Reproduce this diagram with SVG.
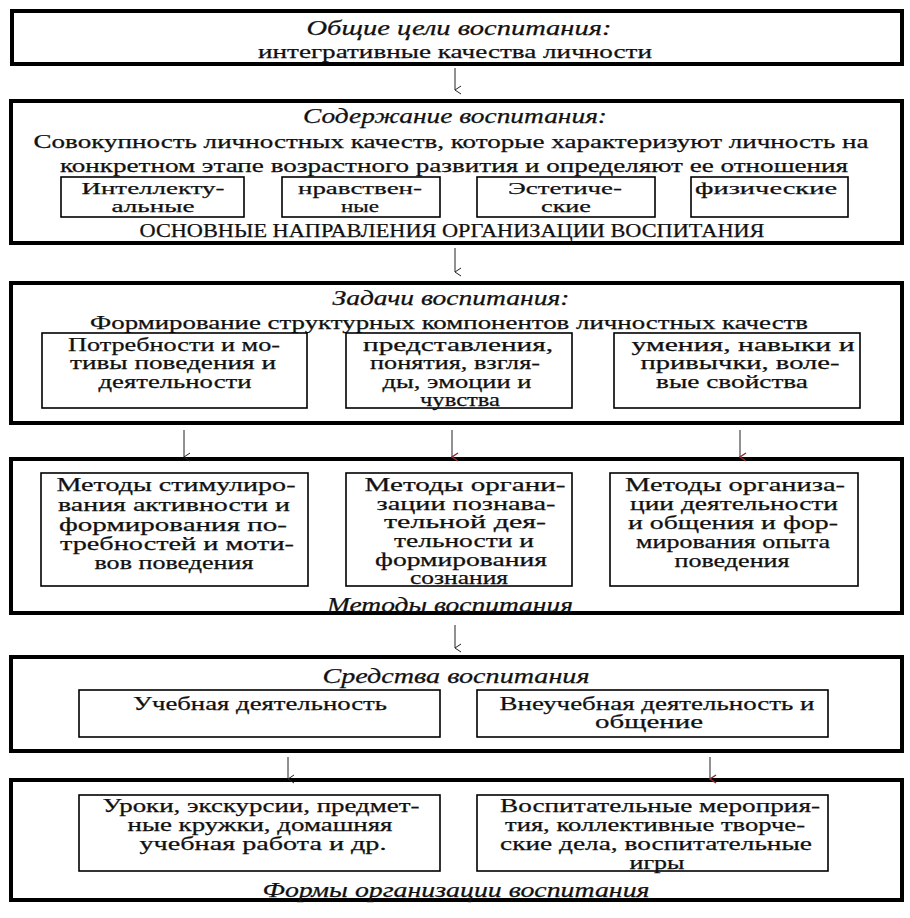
<svg xmlns="http://www.w3.org/2000/svg" width="910" height="918" viewBox="0 0 910 918" font-family="'Liberation Serif','Times New Roman','DejaVu Serif',serif">
<style>
.outer{fill:#fff;stroke:#000;stroke-width:4}
.inner{fill:#fff;stroke:#000;stroke-width:1.6}
text{font-family:'Liberation Serif','Times New Roman','DejaVu Serif',serif;font-size:19px;fill:#111;stroke:#111;stroke-width:0.25;text-anchor:middle}
.s{font-size:17.5px}
.t{font-style:italic;font-size:21px}
.conn line{stroke:#222;stroke-width:1}
</style>
<defs>
<marker id="ah" markerWidth="10" markerHeight="10" refX="5" refY="9" orient="auto" markerUnits="userSpaceOnUse" viewBox="0 0 10 10">
<path d="M1,3 L5,9 L9,3" fill="none" stroke="#222" stroke-width="1"/>
</marker>
<marker id="ahr" markerWidth="10" markerHeight="10" refX="5" refY="9" orient="auto" markerUnits="userSpaceOnUse" viewBox="0 0 10 10">
<path d="M1,3 L5,9 L9,3" fill="none" stroke="#8a2a2a" stroke-width="1.4"/>
</marker>
</defs>
<rect width="910" height="918" fill="#fff"/>

<g id="goals">
<rect class="outer" x="12" y="11" width="890" height="53"/>
<text class="t" x="459" y="35" textLength="305" lengthAdjust="spacingAndGlyphs">Общие цели воспитания:</text>
<text x="455" y="58" textLength="394" lengthAdjust="spacingAndGlyphs">интегративные качества личности</text>
</g>

<g id="content">
<rect class="outer" x="11" y="101" width="891" height="142"/>
<text class="t" x="455" y="123" textLength="304" lengthAdjust="spacingAndGlyphs">Содержание воспитания:</text>
<text x="451" y="148" textLength="835" lengthAdjust="spacingAndGlyphs">Совокупность личностных качеств, которые характеризуют личность на</text>
<text x="454" y="172" textLength="788" lengthAdjust="spacingAndGlyphs">конкретном этапе возрастного развития и определяют ее отношения</text>
<g id="c1"><rect class="inner" x="61" y="177" width="183" height="40"/><text class="s" x="153" y="194" textLength="143" lengthAdjust="spacingAndGlyphs">Интеллекту-</text><text class="s" x="153" y="212" textLength="83" lengthAdjust="spacingAndGlyphs">альные</text></g>
<g id="c2"><rect class="inner" x="282" y="177" width="158" height="40"/><text class="s" x="360" y="194" textLength="124" lengthAdjust="spacingAndGlyphs">нравствен-</text><text class="s" x="360" y="212" textLength="38" lengthAdjust="spacingAndGlyphs">ные</text></g>
<g id="c3"><rect class="inner" x="477" y="177" width="178" height="40"/><text class="s" x="565" y="194" textLength="114" lengthAdjust="spacingAndGlyphs">Эстетиче-</text><text class="s" x="566" y="212" textLength="50" lengthAdjust="spacingAndGlyphs">ские</text></g>
<g id="c4"><rect class="inner" x="691" y="177" width="157" height="40"/><text class="s" x="766" y="194" textLength="142" lengthAdjust="spacingAndGlyphs">физические</text></g>
<text x="452" y="237" textLength="625" lengthAdjust="spacingAndGlyphs">ОСНОВНЫЕ НАПРАВЛЕНИЯ ОРГАНИЗАЦИИ ВОСПИТАНИЯ</text>
</g>

<g id="tasks">
<rect class="outer" x="11" y="283" width="891" height="140"/>
<text class="t" x="451" y="305" textLength="237" lengthAdjust="spacingAndGlyphs">Задачи воспитания:</text>
<text x="449" y="329" textLength="718" lengthAdjust="spacingAndGlyphs">Формирование структурных компонентов личностных качеств</text>
<g id="t1"><rect class="inner" x="42" y="333" width="265" height="75"/><text x="174" y="351" textLength="212" lengthAdjust="spacingAndGlyphs">Потребности и мо-</text><text x="173" y="369" textLength="206" lengthAdjust="spacingAndGlyphs">тивы поведения и</text><text x="175" y="388" textLength="153" lengthAdjust="spacingAndGlyphs">деятельности</text></g>
<g id="t2"><rect class="inner" x="346" y="333" width="226" height="75"/><text x="458" y="351" textLength="190" lengthAdjust="spacingAndGlyphs">представления,</text><text x="455" y="369" textLength="170" lengthAdjust="spacingAndGlyphs">понятия, взгля-</text><text x="457" y="388" textLength="149" lengthAdjust="spacingAndGlyphs">ды, эмоции и</text><text x="460" y="406" textLength="80" lengthAdjust="spacingAndGlyphs">чувства</text></g>
<g id="t3"><rect class="inner" x="614" y="333" width="246" height="75"/><text x="743" y="351" textLength="223" lengthAdjust="spacingAndGlyphs">умения, навыки и</text><text x="740" y="369" textLength="199" lengthAdjust="spacingAndGlyphs">привычки, воле-</text><text x="732" y="388" textLength="152" lengthAdjust="spacingAndGlyphs">вые свойства</text></g>
</g>

<g id="methods">
<rect class="outer" x="11" y="459" width="891" height="154"/>
<g id="m1"><rect class="inner" x="41" y="473" width="267" height="113"/><text x="176" y="491" textLength="239" lengthAdjust="spacingAndGlyphs">Методы стимулиро-</text><text x="174" y="511" textLength="232" lengthAdjust="spacingAndGlyphs">вания активности и</text><text x="173" y="531" textLength="228" lengthAdjust="spacingAndGlyphs">формирования по-</text><text x="177" y="550" textLength="234" lengthAdjust="spacingAndGlyphs">требностей и моти-</text><text x="174" y="569" textLength="159" lengthAdjust="spacingAndGlyphs">вов поведения</text></g>
<g id="m2"><rect class="inner" x="346" y="473" width="226" height="113"/><text x="465" y="491" textLength="201" lengthAdjust="spacingAndGlyphs">Методы органи-</text><text x="466" y="510" textLength="179" lengthAdjust="spacingAndGlyphs">зации познава-</text><text x="465" y="528" textLength="162" lengthAdjust="spacingAndGlyphs">тельной дея-</text><text x="464" y="547" textLength="140" lengthAdjust="spacingAndGlyphs">тельности и</text><text x="461" y="566" textLength="172" lengthAdjust="spacingAndGlyphs">формирования</text><text x="459" y="584" textLength="98" lengthAdjust="spacingAndGlyphs">сознания</text></g>
<g id="m3"><rect class="inner" x="610" y="473" width="248" height="113"/><text x="735" y="491" textLength="220" lengthAdjust="spacingAndGlyphs">Методы организа-</text><text x="734" y="510" textLength="208" lengthAdjust="spacingAndGlyphs">ции деятельности</text><text x="733" y="529" textLength="210" lengthAdjust="spacingAndGlyphs">и общения и фор-</text><text x="733" y="548" textLength="194" lengthAdjust="spacingAndGlyphs">мирования опыта</text><text x="732" y="567" textLength="115" lengthAdjust="spacingAndGlyphs">поведения</text></g>
<text class="t" x="450" y="612" textLength="246" lengthAdjust="spacingAndGlyphs">Методы воспитания</text>
</g>

<g id="means">
<rect class="outer" x="11" y="657" width="891" height="94"/>
<text class="t" x="456" y="683" textLength="267" lengthAdjust="spacingAndGlyphs">Средства воспитания</text>
<g id="s1"><rect class="inner" x="79" y="690" width="361" height="47"/><text x="260" y="710" textLength="254" lengthAdjust="spacingAndGlyphs">Учебная деятельность</text></g>
<g id="s2"><rect class="inner" x="477" y="690" width="351" height="47"/><text x="657" y="710" textLength="315" lengthAdjust="spacingAndGlyphs">Внеучебная деятельность и</text><text x="649" y="728" textLength="108" lengthAdjust="spacingAndGlyphs">общение</text></g>
</g>

<g id="forms">
<rect class="outer" x="11" y="780" width="891" height="120"/>
<g id="f1"><rect class="inner" x="79" y="795" width="361" height="76"/><text x="261" y="812" textLength="317" lengthAdjust="spacingAndGlyphs">Уроки, экскурсии, предмет-</text><text x="260" y="831" textLength="265" lengthAdjust="spacingAndGlyphs">ные кружки, домашняя</text><text x="263" y="850" textLength="247" lengthAdjust="spacingAndGlyphs">учебная работа и др.</text></g>
<g id="f2"><rect class="inner" x="477" y="795" width="351" height="76"/><text x="660" y="812" textLength="320" lengthAdjust="spacingAndGlyphs">Воспитательные мероприя-</text><text x="655" y="831" textLength="300" lengthAdjust="spacingAndGlyphs">тия, коллективные творче-</text><text x="656" y="850" textLength="312" lengthAdjust="spacingAndGlyphs">ские дела, воспитательные</text><text x="657" y="869" textLength="55" lengthAdjust="spacingAndGlyphs">игры</text></g>
<text class="t" x="456" y="897" textLength="387" lengthAdjust="spacingAndGlyphs">Формы организации воспитания</text>
</g>

<g id="connectors" class="conn">
<line x1="455" y1="68" x2="455" y2="90" marker-end="url(#ah)"/>
<line x1="455" y1="248" x2="455" y2="272" marker-end="url(#ah)"/>
<line x1="184" y1="430" x2="184" y2="457" marker-end="url(#ah)"/>
<line x1="452" y1="430" x2="452" y2="457" marker-end="url(#ahr)"/>
<line x1="740" y1="430" x2="740" y2="457" marker-end="url(#ahr)"/>
<line x1="455" y1="625" x2="455" y2="648" marker-end="url(#ah)"/>
<line x1="288" y1="757" x2="288" y2="779" marker-end="url(#ah)"/>
<line x1="710" y1="757" x2="710" y2="779" marker-end="url(#ahr)"/>
</g>
</svg>
